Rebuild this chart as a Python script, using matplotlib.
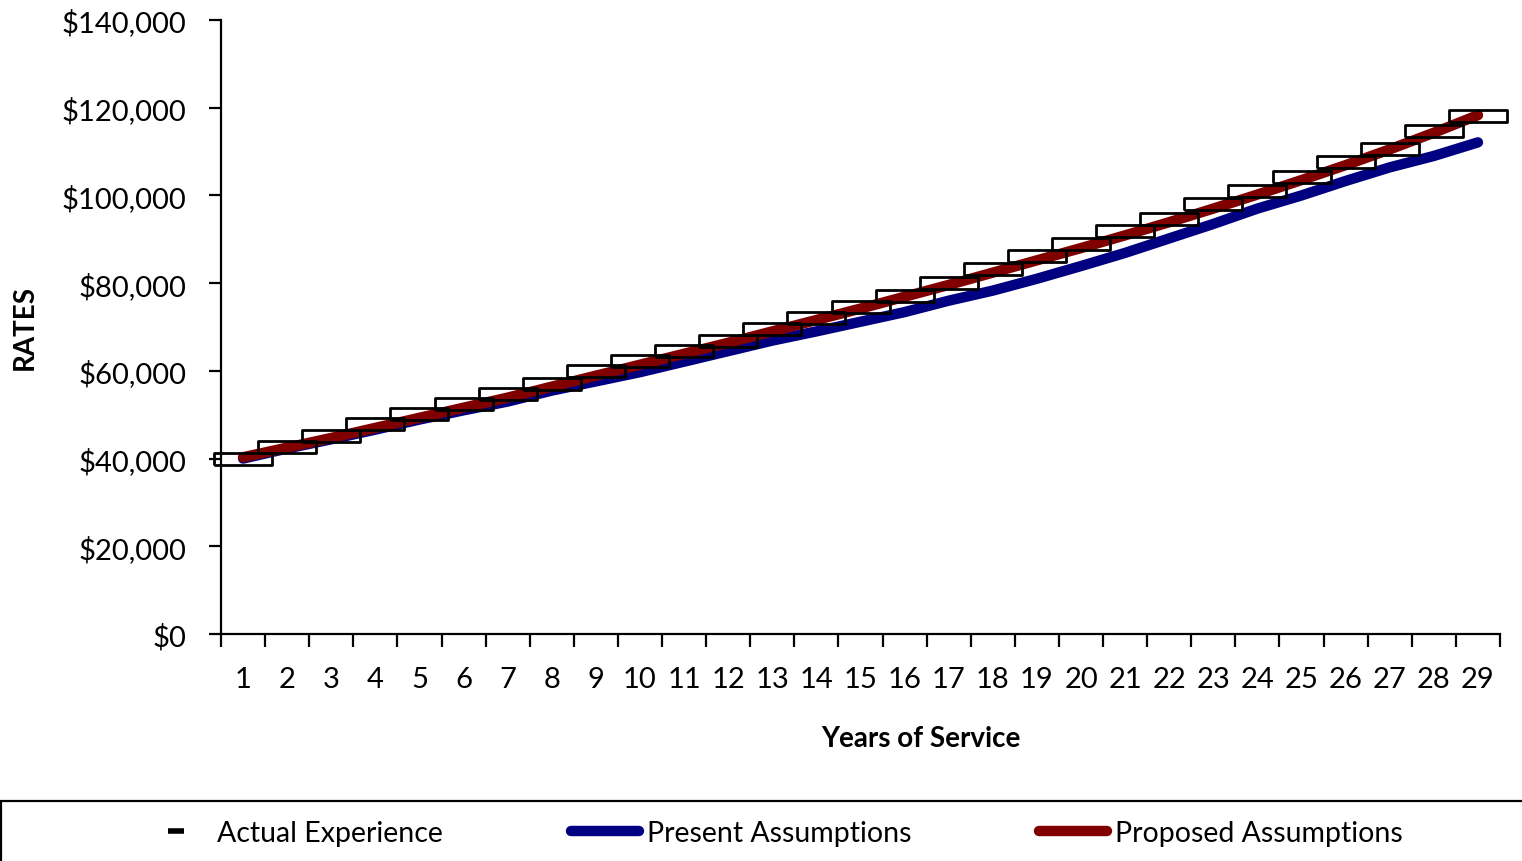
import matplotlib
matplotlib.use('Agg')
import matplotlib.pyplot as plt
from matplotlib.lines import Line2D
from matplotlib.patches import Rectangle
from matplotlib.ticker import FuncFormatter, FixedLocator

plt.rcParams['font.family'] = ['Lato', 'DejaVu Sans']

# salary rates by years of service
years = list(range(1, 30))
actual = [40000, 42750, 45080, 47900, 50160, 52440, 54720, 57070, 59900, 62170,
          64450, 66730, 69530, 71970, 74650, 76970, 79930, 83230, 86100, 88950,
          91800, 94600, 98000, 100900, 104300, 107700, 110700, 114600, 118000]
present = [40000, 42300, 44400, 46600, 48900, 51000, 53000, 55500, 57600, 59700,
           62100, 64500, 66900, 69000, 71200, 73400, 76000, 78300, 81000, 83900,
           86900, 90200, 93500, 97000, 100000, 103300, 106400, 109000, 112100]
proposed = [40300, 42500, 44700, 47000, 49300, 51600, 53900, 56400, 58900, 61400,
            63900, 66400, 69000, 71600, 74200, 76900, 79600, 82400, 85200, 88000,
            90900, 93900, 97000, 100200, 103500, 106900, 110500, 114300, 118300]
yticks = list(range(0, 140001, 20000))

BLUE = '#000080'
RED = '#800000'

fig = plt.figure(figsize=(15.22, 8.62), dpi=100)
ax = fig.add_axes([221 / 1522, 1 - 635 / 862, 1279 / 1522, 614 / 862])

ax.plot(years, present, color=BLUE, lw=7.5, solid_capstyle='round', zorder=2)
ax.plot(years, proposed, color=RED, lw=7.5, solid_capstyle='round', zorder=3)

# wide hollow box markers for the experience points
box = [(-1, -0.19), (1, -0.19), (1, 0.19), (-1, 0.19), (-1, -0.19)]
ax.plot(years, actual, ls='none', marker=box, markersize=42,
        markerfacecolor='none', markeredgecolor='black', markeredgewidth=2.0,
        zorder=4, clip_on=False)

ax.set_xlim(0.5, 29.5)
ax.set_ylim(0, 140000)
ax.set_yticks(yticks)
ax.yaxis.set_major_formatter(FuncFormatter(lambda v, p: '${:,.0f}'.format(v)))
ax.set_xticks(years)
ax.xaxis.set_minor_locator(FixedLocator([y + 0.5 for y in range(0, 30)]))

for side in ['top', 'right']:
    ax.spines[side].set_visible(False)
for side in ['left', 'bottom']:
    ax.spines[side].set_linewidth(1.6)

ax.tick_params(axis='x', which='major', length=0, pad=23, labelsize=21)
ax.tick_params(axis='x', which='minor', length=9, width=1.6, direction='out')
ax.tick_params(axis='y', length=9, width=1.6, direction='out', pad=16, labelsize=21)

ax.set_xlabel('Years of Service', fontsize=20, fontweight='bold', va='center')
ax.xaxis.set_label_coords(700 / 1279, (635 - 739) / 614)
ax.set_ylabel('RATES', fontsize=20, fontweight='bold', va='center')
ax.yaxis.set_label_coords(-196 / 1279, 0.5)

# legend box along the bottom
fig.add_artist(Rectangle((0.0008, -0.2), 2, 0.2 + 60 / 862, transform=fig.transFigure,
                         facecolor='none', edgecolor='black', lw=1.6, clip_on=False))

handles = [
    Line2D([], [], ls='none', marker='_', color='black', markersize=11, markeredgewidth=4),
    Line2D([], [], color=BLUE, lw=7.5, solid_capstyle='round'),
    Line2D([], [], color=RED, lw=7.5, solid_capstyle='round'),
]
labels = ['Actual Experience', 'Present Assumptions', 'Proposed Assumptions']
fig.legend(handles, labels, ncol=3, loc='center', bbox_to_anchor=(772 / 1522, 1 - 834 / 862),
           frameon=False, fontsize=20.5, handlelength=2.4, handletextpad=0.25,
           columnspacing=4.5)

fig.savefig('out.png', dpi=100)
